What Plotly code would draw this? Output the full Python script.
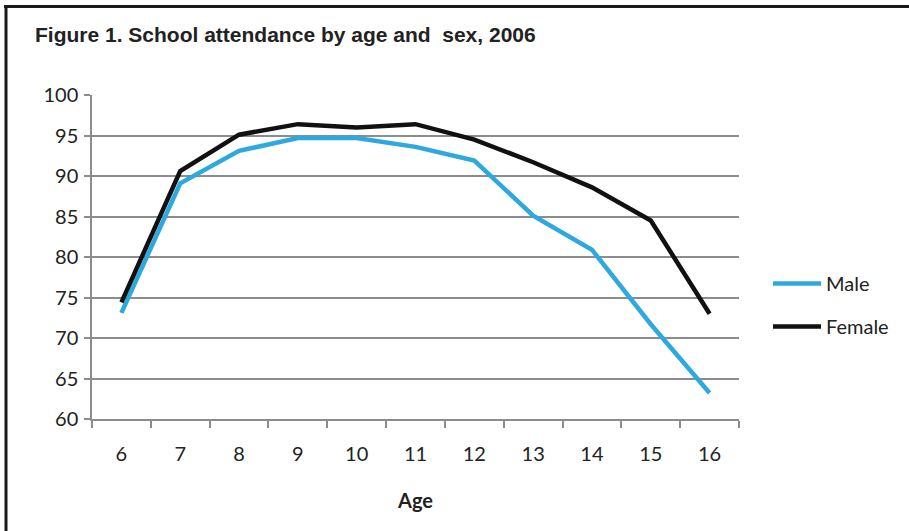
import plotly.graph_objects as go

# School attendance (%) by single year of age, 2006
ages = ["6", "7", "8", "9", "10", "11", "12", "13", "14", "15", "16"]
male = [73.1, 89.1, 93.1, 94.7, 94.7, 93.6, 91.9, 85.1, 80.9, 71.7, 63.2]
female = [74.4, 90.6, 95.1, 96.4, 96.0, 96.4, 94.5, 91.7, 88.6, 84.5, 73.0]
y_ticks = [60, 65, 70, 75, 80, 85, 90, 95, 100]

W, H = 909, 531
L, R, T, B = 92, 170, 95, 112

fig = go.Figure()
fig.add_trace(go.Scatter(x=ages, y=male, mode="lines", name="Male",
                         legendgroup="m",
                         line=dict(color="#2DA9DF", width=4.5)))
fig.add_trace(go.Scatter(x=ages, y=female, mode="lines", name="Female",
                         legendgroup="f",
                         line=dict(color="#111111", width=4.5)))

sans = "Lato, 'Open Sans', sans-serif"
tick_font = dict(family=sans, size=20, color="#222")

fig.update_layout(
    width=W, height=H,
    margin=dict(l=L, r=R, t=T, b=B),
    paper_bgcolor="white", plot_bgcolor="white",
    title=dict(text="<b>Figure 1. School attendance by age and  sex, 2006</b>",
               x=35 / W, xanchor="left", y=1 - 35 / H, yanchor="middle",
               font=dict(family="Liberation Sans, Arial, sans-serif", size=21, color="#222")),
    xaxis=dict(type="category", range=[-0.5, 10.5], tickson="boundaries",
               showgrid=False, showline=True, linecolor="#8c8c8c", linewidth=1.5,
               ticks="outside", ticklen=7, tickwidth=1.5, tickcolor="#8c8c8c",
               tickfont=tick_font, ticklabelstandoff=16,
               title=dict(text="<b>Age</b>", standoff=30,
                          font=dict(family=sans, size=20, color="#222")),
               fixedrange=True),
    yaxis=dict(range=[60, 100], tickvals=y_ticks,
               showgrid=True, gridcolor="#8c8c8c", gridwidth=1.5,
               showline=True, linecolor="#8c8c8c", linewidth=1.5,
               ticks="outside", ticklen=6, tickwidth=1.5, tickcolor="#8c8c8c",
               tickfont=tick_font, ticklabelstandoff=2, zeroline=False,
               fixedrange=True),
    legend=dict(x=(768 - L) / (W - L - R), xanchor="left",
                y=(H - B - 305) / (H - T - B), yanchor="middle",
                font=dict(family=sans, size=20, color="#222"),
                tracegroupgap=14, itemwidth=48, bgcolor="rgba(0,0,0,0)"),
    showlegend=True,
)

# Outer frame: top and left rules
pw, ph = W - L - R, H - T - B
def px_to_paper_x(px):
    return (px - L) / pw
def py_to_paper_y(py):
    return (H - B - py) / ph

fig.add_shape(type="line", xref="paper", yref="paper",
              x0=px_to_paper_x(4), x1=px_to_paper_x(W + 5),
              y0=py_to_paper_y(6.5), y1=py_to_paper_y(6.5),
              line=dict(color="#1a1a1a", width=3))
fig.add_shape(type="line", xref="paper", yref="paper",
              x0=px_to_paper_x(6), x1=px_to_paper_x(6),
              y0=py_to_paper_y(5), y1=py_to_paper_y(H + 5),
              line=dict(color="#1a1a1a", width=3))

fig.write_html("out.html")
